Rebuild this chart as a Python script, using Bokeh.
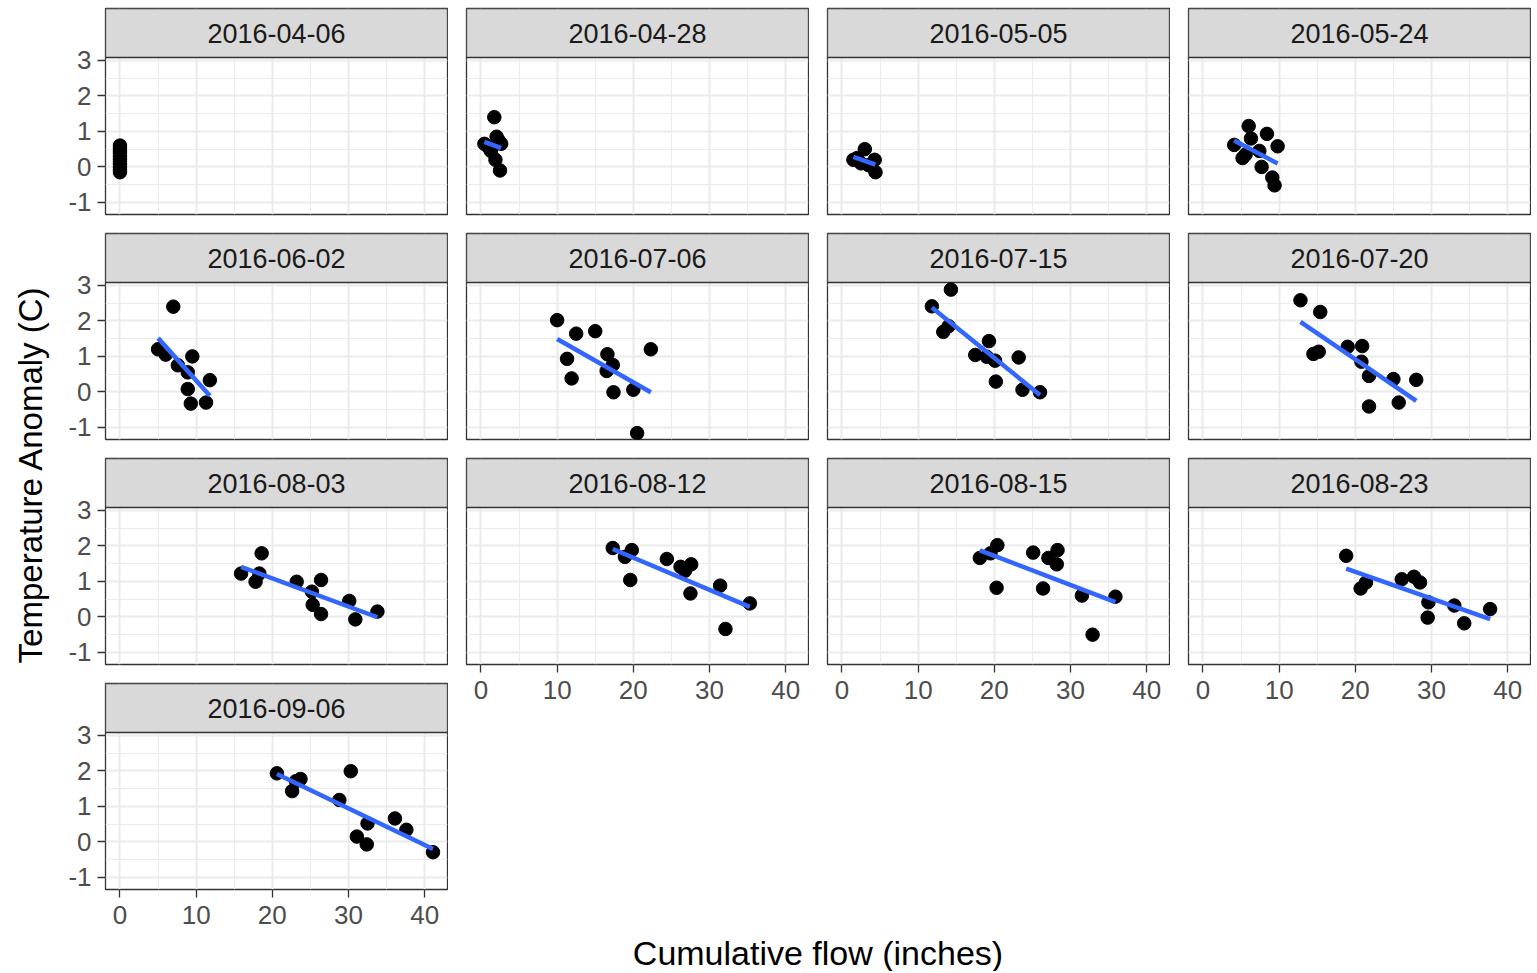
import numpy as np
from bokeh.plotting import figure
from bokeh.layouts import row, column
from bokeh.models import Range1d, LinearAxis, FixedTicker
from bokeh.core.properties import value
from bokeh.embed import file_html
from bokeh.resources import INLINE

# ---------------- data ----------------
dates = ["2016-04-06", "2016-04-28", "2016-05-05", "2016-05-24",
         "2016-06-02", "2016-07-06", "2016-07-15", "2016-07-20",
         "2016-08-03", "2016-08-12", "2016-08-15", "2016-08-23",
         "2016-09-06"]

flow_0406 = [0, 0, 0, 0, 0, 0, 0, 0, 0, 0, 0]
temp_0406 = [0.6, 0.52, 0.45, 0.38, 0.3, 0.22, 0.15, 0.08, 0.0, -0.08, -0.15]

flow_0428 = [0.45, 1.75, 2.05, 2.65, 1.3, 1.9, 2.5, 1.0, 2.3]
temp_0428 = [0.65, 1.40, 0.85, 0.65, 0.45, 0.2, -0.1, 0.55, 0.75]

flow_0505 = [1.5, 3.0, 2.5, 3.5, 4.3, 4.4, 2.0]
temp_0505 = [0.2, 0.5, 0.1, 0.05, 0.2, -0.15, 0.25]

flow_0524 = [4.1, 6.0, 6.3, 5.2, 7.7, 8.4, 7.4, 9.8, 9.1, 9.4, 5.6]
temp_0524 = [0.62, 1.15, 0.8, 0.25, 0.0, 0.93, 0.45, 0.58, -0.3, -0.52, 0.35]

flow_0602 = [7.0, 5.0, 6.0, 9.5, 7.6, 8.9, 11.8, 8.9, 9.3, 11.3]
temp_0602 = [2.4, 1.2, 1.05, 1.0, 0.75, 0.55, 0.33, 0.08, -0.33, -0.3]

flow_0706 = [10.0, 12.5, 15.0, 22.3, 11.3, 16.6, 17.3, 16.5, 11.9, 17.4, 20.0, 20.5]
temp_0706 = [2.02, 1.64, 1.71, 1.2, 0.93, 1.06, 0.76, 0.59, 0.38, -0.01, 0.06, -1.16]

flow_0715 = [14.3, 11.8, 13.3, 14.0, 19.3, 17.5, 19.0, 20.1, 23.2, 20.2, 23.7, 26.0]
temp_0715 = [2.88, 2.41, 1.69, 1.85, 1.43, 1.04, 0.99, 0.88, 0.97, 0.29, 0.06, -0.01]

flow_0720 = [12.8, 15.4, 14.5, 15.2, 19.0, 20.9, 20.8, 21.8, 25.0, 28.0, 25.7, 21.8]
temp_0720 = [2.58, 2.25, 1.07, 1.13, 1.27, 1.29, 0.85, 0.45, 0.36, 0.34, -0.3, -0.41]

flow_0803 = [18.6, 15.9, 18.3, 17.8, 23.2, 26.4, 25.2, 25.3, 26.4, 30.1, 30.9, 33.8]
temp_0803 = [1.79, 1.22, 1.22, 0.99, 0.99, 1.04, 0.71, 0.34, 0.08, 0.45, -0.07, 0.15]

flow_0812 = [17.3, 19.8, 18.9, 24.4, 26.2, 27.6, 26.8, 19.6, 27.5, 31.4, 35.3, 32.1]
temp_0812 = [1.94, 1.88, 1.69, 1.63, 1.41, 1.48, 1.3, 1.04, 0.66, 0.88, 0.38, -0.34]

flow_0815 = [20.4, 18.1, 19.5, 25.1, 28.3, 27.1, 28.2, 20.3, 26.4, 31.5, 35.9, 32.9]
temp_0815 = [2.02, 1.66, 1.79, 1.81, 1.88, 1.66, 1.48, 0.82, 0.8, 0.6, 0.57, -0.5]

flow_0823 = [18.8, 20.7, 21.4, 26.1, 27.7, 28.5, 29.6, 29.5, 33.0, 34.3, 37.7]
temp_0823 = [1.72, 0.8, 0.97, 1.06, 1.13, 0.97, 0.41, -0.02, 0.32, -0.18, 0.22]

flow_0906 = [20.6, 23.7, 23.1, 22.6, 30.3, 28.8, 32.5, 31.1, 32.4, 36.1, 37.6, 41.1]
temp_0906 = [1.93, 1.77, 1.71, 1.43, 1.99, 1.18, 0.52, 0.15, -0.07, 0.66, 0.34, -0.29]

flows = [flow_0406, flow_0428, flow_0505, flow_0524, flow_0602, flow_0706,
         flow_0715, flow_0720, flow_0803, flow_0812, flow_0815, flow_0823,
         flow_0906]
temps = [temp_0406, temp_0428, temp_0505, temp_0524, temp_0602, temp_0706,
         temp_0715, temp_0720, temp_0803, temp_0812, temp_0815, temp_0823,
         temp_0906]

x_ticks = [0, 10, 20, 30, 40]
x_minor = [5, 15, 25, 35]
y_ticks = [-1, 0, 1, 2, 3]
y_minor = [-0.5, 0.5, 1.5, 2.5]
y_tick_labels = {-1: "-1", 0: "0", 1: "1", 2: "2", 3: "3"}

x_label = "Cumulative flow (inches)"
y_label = "Temperature Anomaly (C)"

# ---------------- geometry / style ----------------
FONT = "Liberation Sans"
X_LO, X_HI = -1.9, 43.0
Y_LO, Y_HI = -1.34, 3.08
PANEL_H, STRIP_H, FRAME_W = 157, 49, 342
FRAME_H = PANEL_H + STRIP_H
Y_TOP = Y_HI + STRIP_H * (Y_HI - Y_LO) / PANEL_H
AX_BOTTOM = 47
GAP_BOTTOM = 18
TOP_FIRST = 8
TOP_OTHER = 1
YT_W = 58


def style_axis(ax):
    ax.axis_line_color = None
    ax.major_tick_line_color = "#333333"
    ax.major_tick_line_width = 1.3
    ax.major_tick_out = 8
    ax.major_tick_in = 0
    ax.minor_tick_line_color = None
    ax.major_label_text_color = "#4D4D4D"
    ax.major_label_text_font = FONT
    ax.major_label_text_font_size = "26px"


def panel_height(top, bottom):
    return top + FRAME_H + bottom


def make_panel(i, left_axis, bottom_axis, top):
    left = 47 if left_axis else 18
    bottom = AX_BOTTOM if bottom_axis else GAP_BOTTOM
    p = figure(width=left + FRAME_W + 1, height=panel_height(top, bottom),
               x_range=Range1d(X_LO, X_HI), y_range=Range1d(Y_LO, Y_TOP),
               x_axis_location=None, y_axis_location=None,
               toolbar_location=None, output_backend="svg",
               min_border_left=left, min_border_right=1,
               min_border_top=top, min_border_bottom=bottom)
    p.background_fill_color = "white"
    p.border_fill_color = "white"
    p.outline_line_color = "#333333"
    p.outline_line_width = 1.3

    p.xgrid.ticker = FixedTicker(ticks=x_ticks, minor_ticks=x_minor)
    p.ygrid.ticker = FixedTicker(ticks=y_ticks, minor_ticks=y_minor)
    for g in (p.xgrid, p.ygrid):
        g.grid_line_color = "#EBEBEB"
        g.grid_line_width = 2
        g.minor_grid_line_color = "#EBEBEB"
        g.minor_grid_line_width = 1

    # facet strip
    p.quad(left=[X_LO], right=[X_HI], bottom=[Y_HI], top=[Y_TOP],
           fill_color="#D9D9D9", line_color="#333333", line_width=1.3)
    p.text(x=[(X_LO + X_HI) / 2], y=[(Y_HI + Y_TOP) / 2], text=[dates[i]],
           text_align="center", text_baseline="middle",
           text_font=value(FONT), text_font_size="27px", text_color="#1A1A1A")

    xs = np.array(flows[i], dtype=float)
    ys = np.array(temps[i], dtype=float)
    p.scatter(xs, ys, size=13.5, fill_color="black", line_color="black")
    if np.ptp(xs) > 0:
        b, a = np.polyfit(xs, ys, 1)
        xl = np.array([xs.min(), xs.max()])
        p.line(xl, a + b * xl, line_color="#3366FF", line_width=4.5)

    if left_axis:
        ax = LinearAxis(ticker=FixedTicker(ticks=y_ticks))
        style_axis(ax)
        ax.major_label_standoff = 6
        ax.major_label_overrides = y_tick_labels
        p.add_layout(ax, "left")
    if bottom_axis:
        ax = LinearAxis(ticker=FixedTicker(ticks=x_ticks))
        style_axis(ax)
        ax.major_label_standoff = 8
        p.add_layout(ax, "below")
    return p


def text_fig(w, h):
    f = figure(width=w, height=h, x_range=Range1d(0, w), y_range=Range1d(0, h),
               x_axis_location=None, y_axis_location=None,
               toolbar_location=None, output_backend="svg", min_border=0)
    f.outline_line_color = None
    f.grid.visible = False
    return f


panels = []
for i in range(13):
    col = i % 4
    rw = i // 4
    left_axis = col == 0
    bottom_axis = (i + 4) >= 13
    top = TOP_FIRST if rw == 0 else TOP_OTHER
    panels.append(make_panel(i, left_axis, bottom_axis, top))

col1 = column(panels[0], panels[4], panels[8], panels[12], spacing=0)
col2 = column(panels[1], panels[5], panels[9], spacing=0)
col3 = column(panels[2], panels[6], panels[10], spacing=0)
col4 = column(panels[3], panels[7], panels[11], spacing=0)

h_full = (panel_height(TOP_FIRST, GAP_BOTTOM) + 2 * panel_height(TOP_OTHER, GAP_BOTTOM)
          + panel_height(TOP_OTHER, AX_BOTTOM))
h_short = (panel_height(TOP_FIRST, GAP_BOTTOM) + panel_height(TOP_OTHER, GAP_BOTTOM)
           + panel_height(TOP_OTHER, AX_BOTTOM))

yfig = text_fig(YT_W, h_full)
yfig.text(x=[30], y=[h_full - 474], text=[y_label], angle=np.pi / 2,
          text_align="center", text_baseline="middle",
          text_font=value(FONT), text_font_size="33px", text_color="black")

xw = 3 * (18 + FRAME_W + 1)
xh = 971 - h_short
xfig = text_fig(xw, xh)
xfig.text(x=[817.5 - (YT_W + 47 + FRAME_W + 1)], y=[xh - (952 - h_short)], text=[x_label],
          text_align="center", text_baseline="middle",
          text_font=value(FONT), text_font_size="34px", text_color="black")

right = column(row(col2, col3, col4, spacing=0), xfig, spacing=0)
layout = row(yfig, col1, right, spacing=0)

open("out.html", "w").write(file_html(layout, INLINE))
